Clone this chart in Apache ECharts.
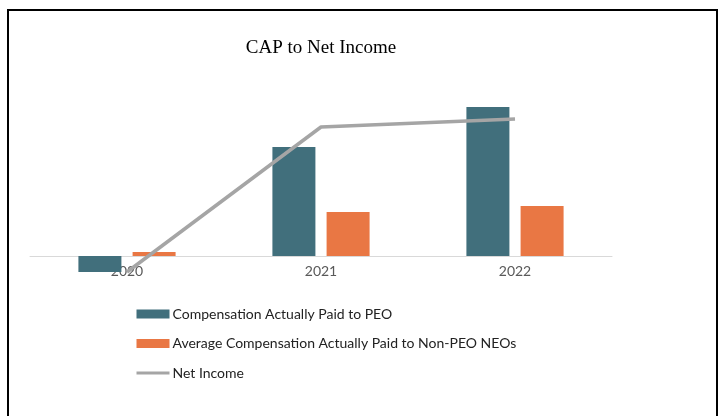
<!DOCTYPE html>
<html>
<head>
<meta charset="utf-8">
<script src="https://cdn.jsdelivr.net/npm/echarts@6/dist/echarts.min.js"></script>
<style>
  html, body { margin: 0; padding: 0; background: #fff; }
  #chart { width: 723px; height: 416px; }
</style>
</head>
<body>
<div id="chart"></div>
<script>
"use strict";

// values (relative units, no axis shown)
const years = ["2020", "2021", "2022"];
const capPeo = [-16, 109, 149];
const capNonPeo = [4, 44, 50];
const netIncome = [-16, 129, 137];

const chart = echarts.init(document.getElementById("chart"));

const labelFont = "Lato, 'Liberation Sans', sans-serif";

chart.setOption({
  backgroundColor: "#fff",
  animation: false,
  title: {
    text: "CAP to Net Income",
    left: 316,
    top: 34,
    textAlign: "center",
    textStyle: {
      fontFamily: "'Liberation Serif', 'DejaVu Serif', serif",
      fontWeight: "normal",
      fontSize: 19,
      color: "#000",
    },
  },
  graphic: [
    {
      type: "polyline",
      shape: { points: [[8, 416], [8, 10], [717, 10], [717, 416]] },
      style: { stroke: "#000", lineWidth: 2, fill: null },
    },
  ],
  legend: {
    orient: "vertical",
    left: 130,
    top: 302,
    itemWidth: 33,
    itemHeight: 9,
    itemGap: 15.5,
    textStyle: {
      fontFamily: labelFont,
      fontSize: 14,
      color: "#222",
      padding: [0, 0, 0, -2],
    },
    data: [
      { name: "Compensation Actually Paid to PEO", icon: "rect" },
      { name: "Average Compensation Actually Paid to Non-PEO NEOs", icon: "rect" },
      { name: "Net Income", itemStyle: { opacity: 0 }, lineStyle: { width: 3 } },
    ],
  },
  grid: { left: 30, right: 111, top: 96, height: 160 },
  xAxis: {
    type: "category",
    data: years,
    axisLine: { lineStyle: { color: "#d9d9d9", width: 1 } },
    axisTick: { show: false },
    axisLabel: {
      fontFamily: labelFont,
      fontSize: 14,
      color: "#595959",
      margin: 8,
    },
    z: 1,
  },
  yAxis: {
    type: "value",
    min: 0,
    max: 160,
    show: false,
    splitLine: { show: false },
  },
  series: [
    {
      name: "Compensation Actually Paid to PEO",
      type: "bar",
      data: capPeo,
      clip: false,
      barWidth: 43,
      barGap: "26%",
      itemStyle: { color: "#416f7c" },
    },
    {
      name: "Average Compensation Actually Paid to Non-PEO NEOs",
      type: "bar",
      data: capNonPeo,
      clip: false,
      barWidth: 43,
      barGap: "26%",
      itemStyle: { color: "#e97744" },
    },
    {
      name: "Net Income",
      type: "line",
      data: netIncome,
      clip: false,
      symbol: "none",
      lineStyle: { color: "#a5a5a5", width: 3.5 },
      itemStyle: { color: "#a5a5a5" },
      z: 5,
    },
  ],
});
</script>
</body>
</html>
